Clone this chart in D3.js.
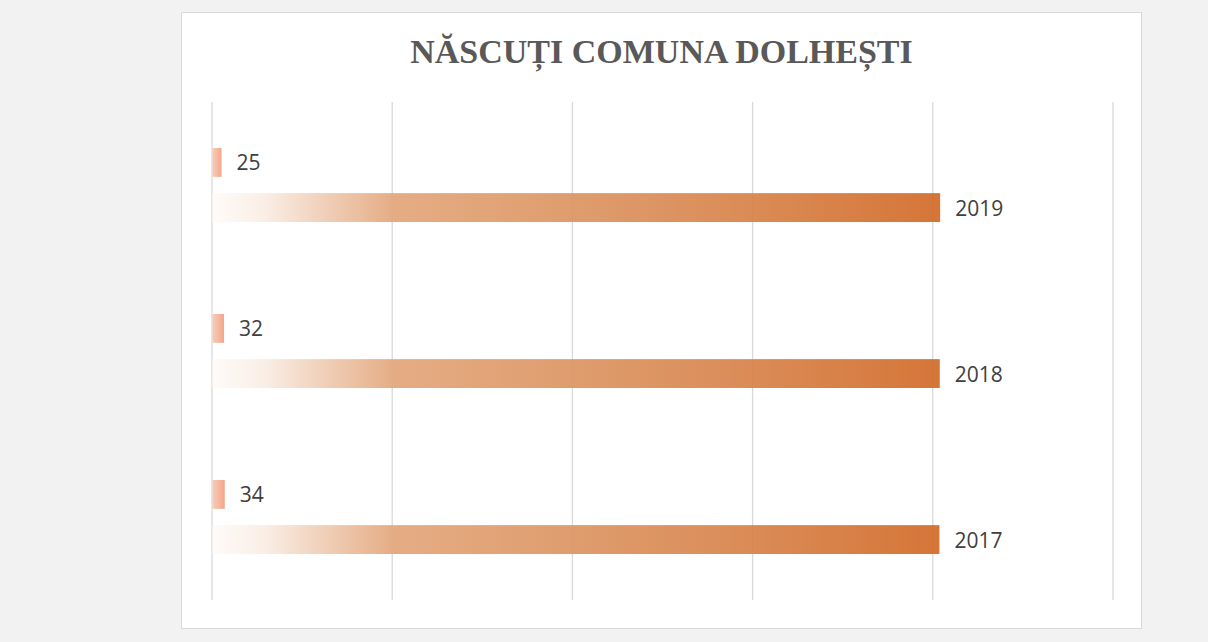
<!DOCTYPE html>
<html>
<head>
<meta charset="utf-8">
<script src="https://cdn.jsdelivr.net/npm/d3@7"></script>
<style>
  html, body { margin: 0; padding: 0; background: #f2f2f2; }
</style>
</head>
<body>
<div class="chart"></div>
<script>
// data
let years = ["2019", "2018", "2017"];
let nascuti = [25, 32, 34];
let anValues = [2019, 2018, 2017];
let xTicks = [0, 500, 1000, 1500, 2000, 2500];
let series = ["nascuti", "an"];

let W = 1208, H = 642;
let plot = { left: 211.5, right: 1112.5, top: 102, bottom: 600 };

let svg = d3
  .select(".chart")
  .append("svg")
  .attr("width", W)
  .attr("height", H)
  .style("display", "block");

// gradients
let defs = svg.append("defs");
let gBig = defs.append("linearGradient").attr("id", "gradBig");
[
  [0, "#fefbf8"],
  [0.07, "#f9ede4"],
  [0.25, "#e3a67b"],
  [0.5, "#dc9562"],
  [0.72, "#d8844c"],
  [1, "#d26b29"],
].forEach((s) => gBig.append("stop").attr("offset", s[0]).attr("stop-color", s[1]));

let gSmall = defs.append("linearGradient").attr("id", "gradSmall");
[
  [0, "#f7c8b4"],
  [1, "#f29f80"],
].forEach((s) => gSmall.append("stop").attr("offset", s[0]).attr("stop-color", s[1]));

// chart frame
svg
  .append("rect")
  .attr("x", 181.5)
  .attr("y", 12.5)
  .attr("width", 960)
  .attr("height", 616)
  .style("fill", "#ffffff")
  .style("stroke", "#d9d9d9");

// title
svg
  .append("text")
  .attr("x", 661.5)
  .attr("y", 63)
  .attr("text-anchor", "middle")
  .style("font-family", "'Liberation Serif', 'Times New Roman', serif")
  .style("font-weight", "bold")
  .style("font-size", "34px")
  .style("fill", "#595959")
  .text("NĂSCUȚI COMUNA DOLHEȘTI");

// scales
let xScale = d3.scaleLinear().domain([0, 2500]).range([plot.left, plot.right]);

let yScale = d3
  .scaleBand()
  .domain(years)
  .range([plot.top, plot.bottom])
  .paddingInner(0.554)
  .paddingOuter(0.277);

let ySub = d3
  .scaleBand()
  .domain(series)
  .range([0, yScale.bandwidth()])
  .paddingInner(0.36);

// gridlines
let xAxis = d3.axisBottom(xScale).tickValues(xTicks).tickSize(-(plot.bottom - plot.top)).tickFormat("");
let grid = svg.append("g").attr("transform", `translate(0, ${plot.bottom})`).call(xAxis);
grid.select(".domain").remove();
grid.selectAll(".tick line").style("stroke", "#d9d9d9").style("stroke-width", 1.3);

// bars
let rows = years.map((y, i) => ({ year: y, nascuti: nascuti[i], an: anValues[i] }));

let groups = svg
  .selectAll(".grp")
  .data(rows)
  .enter()
  .append("g")
  .attr("class", "grp")
  .attr("transform", (d) => `translate(0, ${yScale(d.year)})`);

let labelStyle = (sel) =>
  sel
    .style("font-family", "'Open Sans', 'Noto Sans', sans-serif")
    .style("font-size", "21px")
    .style("fill", "#404040")
    .attr("dominant-baseline", "central");

series.forEach((s) => {
  groups
    .append("rect")
    .attr("x", xScale(0) + 1)
    .attr("y", ySub(s))
    .attr("width", (d) => xScale(d[s]) - xScale(0))
    .attr("height", ySub.bandwidth())
    .style("fill", s === "an" ? "url(#gradBig)" : "url(#gradSmall)")
    .style("fill-opacity", 0.93);

  groups
    .append("text")
    .attr("x", (d) => xScale(d[s]) + 16)
    .attr("y", ySub(s) + ySub.bandwidth() / 2)
    .call(labelStyle)
    .text((d) => d[s]);
});
</script>
</body>
</html>
